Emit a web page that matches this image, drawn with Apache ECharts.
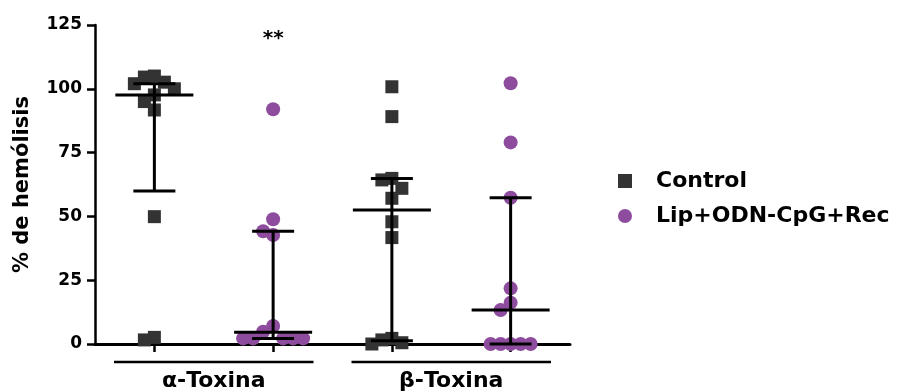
<!DOCTYPE html>
<html>
<head>
<meta charset="utf-8">
<script src="https://cdn.jsdelivr.net/npm/echarts@6/dist/echarts.min.js"></script>
<style>
html, body { margin: 0; padding: 0; background: #fff; }
#chart { width: 899px; height: 392px; }
</style>
</head>
<body>
<div id="chart"></div>
<script>
// valores (% de hemolisis)
var groups = ["α-Toxina", "β-Toxina"];
var seriesNames = ["Control", "Lip+ODN-CpG+Rec"];
var yTicks = [0, 25, 50, 75, 100, 125];

var controlAlfa = [105, 104.6, 102.6, 102, 100, 97.6, 95, 91.7, 49.9, 2.6, 1.6];
var lipAlfa = [92, 48.9, 44.2, 42.7, 7.1, 4.8, 2.2, 2.2, 2.2, 2.2, 2.2];
var controlBeta = [100.8, 89.1, 64.9, 64.3, 61, 57.1, 47.9, 41.7, 2.2, 1.6, 0.5, 0];
var lipBeta = [102.2, 79, 57.3, 21.8, 16.2, 13.3, 0, 0, 0, 0, 0];

// mediana y rango intercuartil: ctrl α, lip α, ctrl β, lip β
var medians = [97.6, 4.6, 52.5, 13.3];
var q1 = [60, 2.2, 1.3, 0];
var q3 = [102, 44.2, 64.9, 57.3];
var signif = ["", "**", "", ""];

var FONT = "DejaVu Sans";
var grid = { left: 95, right: 329, top: 25, bottom: 48 };
var xMax = 4;
var pxX = (899 - grid.left - grid.right) / xMax;
var pxY = (392 - grid.top - grid.bottom) / yTicks[yTicks.length - 1];
var STEP = 10;   // separacion horizontal entre columnas de puntos
var HGT = 13;    // alto del simbolo

// reparto horizontal de los puntos (tipo beeswarm)
function swarm(values, center) {
  var placed = [];
  var sorted = values.slice().sort(function (a, b) { return b - a; });
  return sorted.map(function (v) {
    var off = 0;
    for (var k = 0; k < 30; k++) {
      off = k === 0 ? 0 : (k % 2 ? -1 : 1) * Math.ceil(k / 2) * STEP;
      var hit = placed.some(function (p) {
        return Math.abs(p[0] - off) < STEP - 0.01 && Math.abs(p[1] - v) * pxY < HGT;
      });
      if (!hit) break;
    }
    placed.push([off, v]);
    return [center + off / pxX, v];
  });
}

var columns = [controlAlfa, lipAlfa, controlBeta, lipBeta];
var colPos = columns.map(function (c, i) { return i + 0.5; });

var controlData = swarm(controlAlfa, colPos[0]).concat(swarm(controlBeta, colPos[2]));
var lipData = swarm(lipAlfa, colPos[1]).concat(swarm(lipBeta, colPos[3]));

var statsData = colPos.map(function (x, i) { return [x, medians[i], q1[i], q3[i]]; });
var groupData = groups.map(function (g, i) { return [(colPos[2 * i] + colPos[2 * i + 1]) / 2]; });

var chart = echarts.init(document.getElementById("chart"));
var option = {
  animation: false,
  backgroundColor: "#fff",
  grid: grid,
  legend: {
    orient: "vertical",
    left: 613,
    top: 165,
    itemWidth: 14,
    itemHeight: 14,
    itemGap: 13,
    textStyle: {
      fontFamily: FONT,
      fontWeight: "bold",
      fontSize: 22,
      color: "#000",
      padding: [0, 0, 0, 19]
    },
    data: [
      { name: seriesNames[0], icon: "rect" },
      { name: seriesNames[1], icon: "circle" }
    ]
  },
  xAxis: {
    type: "value",
    min: 0,
    max: xMax,
    splitLine: { show: false },
    axisLine: { lineStyle: { color: "#000", width: 3 } },
    axisTick: { show: true, length: 8, lineStyle: { color: "#000", width: 2.5 }, customValues: colPos },
    axisLabel: { show: false }
  },
  yAxis: {
    type: "value",
    min: 0,
    max: 125,
    interval: 25,
    name: "% de hemólisis",
    nameLocation: "middle",
    nameGap: 62,
    nameTextStyle: { fontFamily: FONT, fontWeight: "bold", fontSize: 21, color: "#000" },
    splitLine: { show: false },
    axisLine: { show: true, lineStyle: { color: "#000", width: 2.5 } },
    axisTick: { show: true, length: 8, lineStyle: { color: "#000", width: 2.5 } },
    axisLabel: { fontFamily: FONT, fontWeight: "bold", fontSize: 17, color: "#000", margin: 13 }
  },
  series: [
    {
      name: seriesNames[0],
      type: "scatter",
      symbol: "rect",
      symbolSize: 13,
      itemStyle: { color: "#333333", opacity: 1 },
      data: controlData,
      z: 2
    },
    {
      name: seriesNames[1],
      type: "scatter",
      symbol: "circle",
      symbolSize: 14,
      itemStyle: { color: "#8e4c9e", opacity: 1 },
      data: lipData,
      z: 2
    },
    {
      // mediana + rango intercuartil
      type: "custom",
      data: statsData,
      z: 4,
      silent: true,
      renderItem: function (params, api) {
        var x = api.value(0);
        var pm = api.coord([x, api.value(1)]);
        var pl = api.coord([x, api.value(2)]);
        var ph = api.coord([x, api.value(3)]);
        var st = { stroke: "#000", lineWidth: 3 };
        var sig = signif[params.dataIndex];
        var pt = api.coord([x, 119.5]);
        return {
          type: "group",
          children: [
            { type: "line", shape: { x1: pl[0], y1: pl[1], x2: ph[0], y2: ph[1] }, style: st },
            { type: "line", shape: { x1: pl[0] - 21, y1: pl[1], x2: pl[0] + 21, y2: pl[1] }, style: st },
            { type: "line", shape: { x1: ph[0] - 21, y1: ph[1], x2: ph[0] + 21, y2: ph[1] }, style: st },
            { type: "line", shape: { x1: pm[0] - 39, y1: pm[1], x2: pm[0] + 39, y2: pm[1] }, style: st },
            {
              type: "text",
              style: {
                x: pt[0], y: pt[1], text: sig,
                align: "center", verticalAlign: "middle",
                font: "bold 20px " + FONT, fill: "#000"
              }
            }
          ]
        };
      }
    },
    {
      // etiquetas de grupo bajo el eje
      type: "custom",
      data: groupData,
      z: 4,
      silent: true,
      clip: false,
      renderItem: function (params, api) {
        var c = api.value(0);
        var p0 = api.coord([c - 0.84, 0]);
        var p1 = api.coord([c + 0.84, 0]);
        var pc = api.coord([c, 0]);
        return {
          type: "group",
          children: [
            { type: "line", shape: { x1: p0[0], y1: p0[1] + 18, x2: p1[0], y2: p1[1] + 18 }, style: { stroke: "#000", lineWidth: 2.5 } },
            {
              type: "text",
              style: {
                x: pc[0], y: pc[1] + 37, text: groups[params.dataIndex],
                align: "center", verticalAlign: "middle",
                font: "bold 22px " + FONT, fill: "#000"
              }
            }
          ]
        };
      }
    }
  ]
};
chart.setOption(option);
</script>
</body>
</html>
